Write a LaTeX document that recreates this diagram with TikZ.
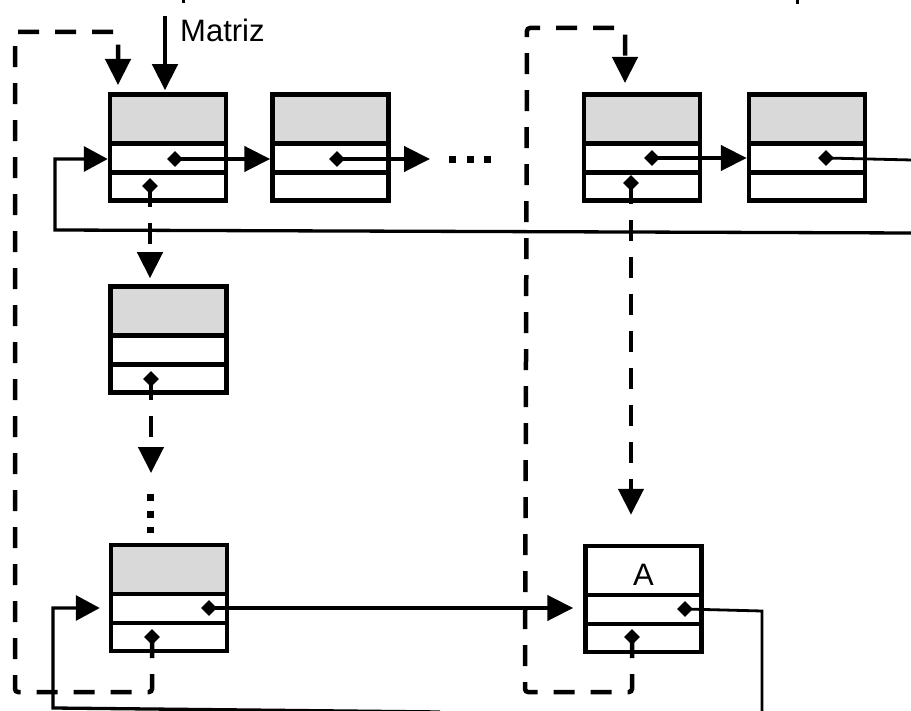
\documentclass[tikz,border=0pt]{standalone}
\usepackage{fontspec}
\setmainfont{Liberation Sans}
\usetikzlibrary{arrows.meta,shapes.geometric,calc}
\definecolor{cellgray}{RGB}{217,217,217}
\begin{document}
\begin{tikzpicture}[x=1pt,y=-1pt,
  whitecell/.style={draw, line width=4.5pt, fill=white, minimum width=116pt, minimum height=106pt, inner sep=0pt,
    path picture={
      \draw[line width=4.5pt] ([yshift=-49pt]path picture bounding box.north west) -- ([yshift=-49pt]path picture bounding box.north east);
      \draw[line width=4.5pt] ([yshift=-78pt]path picture bounding box.north west) -- ([yshift=-78pt]path picture bounding box.north east);
    }},
  graycell/.style={draw, line width=4.5pt, fill=white, minimum width=116pt, minimum height=106pt, inner sep=0pt,
    path picture={
      \fill[cellgray] (path picture bounding box.north west) rectangle ([yshift=-49pt]path picture bounding box.north east);
      \draw[line width=4.5pt] ([yshift=-49pt]path picture bounding box.north west) -- ([yshift=-49pt]path picture bounding box.north east);
      \draw[line width=4.5pt] ([yshift=-78pt]path picture bounding box.north west) -- ([yshift=-78pt]path picture bounding box.north east);
    }},
  dia/.style={diamond, fill=black, inner sep=0pt, minimum size=16pt},
  conn/.style={line width=4.5pt, -{Triangle[length=26pt,width=25pt]}},
  dconn/.style={conn, dash pattern=on 21pt off 16pt, rounded corners=3pt},
  thinline/.style={line width=2.8pt},
  retline/.style={line width=3.3pt, -{Triangle[length=24pt,width=25pt]}},
  dotrow/.style={line width=7pt},
  lbl/.style={font=\fontsize{31}{37}\selectfont, inner sep=0pt}
]
\useasboundingbox (0,0) rectangle (911,711);
\clip (0,0) rectangle (911,711);

% cells
\node[graycell] (b1) at (168,147.5) {};
\node[graycell] (b2) at (330.5,147.5) {};
\node[graycell] (b3) at (642,147.5) {};
\node[graycell] (b4) at (807,147.5) {};
\node[graycell] (c2) at (168.5,339.5) {};
\node[graycell] (c3) at (169,598) {};
\node[whitecell] (a) at (643.5,599) {};
\node[lbl] (alabel) at (643.5,575) {A};

% coordinates for free ends
\coordinate (mtop) at (165,16);
\coordinate (b2out) at (430,159);
\coordinate (c2tip) at (151,473);
\coordinate (rtA) at (912,233);
\coordinate (ltA) at (55,230);
\coordinate (rtB) at (440,712);
\coordinate (ltB) at (53,708);

% Matriz
\draw[conn, shorten >=2pt] (mtop) -- (mtop |- b1.north);
\node[lbl, anchor=base west] (matriz) at (180,42) {Matriz};

% return lines (drawn first)
\draw[retline] (rtA) -- (ltA) -- (55,159) -- (b1.west |- 0,159);
\draw[retline, shorten >=9pt] (rtB) -- (ltB) -- (53,608) -- (c3.west |- 0,608);

% dashed loops
\node[dia] (c3d) at (152,637) {};
\node[dia] (ad) at (632,637) {};
\draw[dconn] (c3d.center) -- (152,692) -- (15,692) -- (15,32) -- (118,32) -- (118,85);
\draw[dconn] (ad.center) -- (632,692) -- (525,692) -- (527,28) -- (625,28) -- (625,83);

% pointers, top row
\node[dia] (b1n) at (175,159) {};
\node[dia] (b1d) at (150,186) {};
\node[dia] (b2n) at (337,159) {};
\node[dia] (b3n) at (652,158) {};
\node[dia] (b3d) at (631,183) {};
\node[dia] (b4n) at (826,158) {};
\node[dia] (c2d) at (151,379) {};
\node[dia] (c3n) at (209,608) {};
\node[dia] (an) at (685,609) {};

\draw[conn] (b1n.center) -- (b1n -| b2.west);
\draw[conn] (b2n.center) -- (b2out);
\draw[dotrow, dash pattern=on 7pt off 10.5pt] (449,160) -- (491,160);
\draw[conn] (b3n.center) -- (b3n -| b4.west);
\draw[thinline] (b4n.center) -- (912,160);

% vertical pointers
\draw[dconn, shorten >=6pt] (b1d.center) -- (b1d |- c2.north);
\draw[dconn] (c2d.center) -- (c2tip);
\draw[dotrow, dash pattern=on 7pt off 9.5pt] (150,494) -- (150,533);
\draw[dconn, shorten >=29pt] (b3d.center) -- (b3d |- a.north);

% bottom row
\draw[conn, shorten >=10pt] (c3n.center) -- (c3n -| a.west);
\draw[thinline] (an.center) -- (762,611) -- (762,712);

% cropped fragments at the top edge
\draw[line width=3pt] (183,-1) -- (183,3);
\draw[line width=3pt] (797,-1) -- (797,4);
\end{tikzpicture}
\end{document}
